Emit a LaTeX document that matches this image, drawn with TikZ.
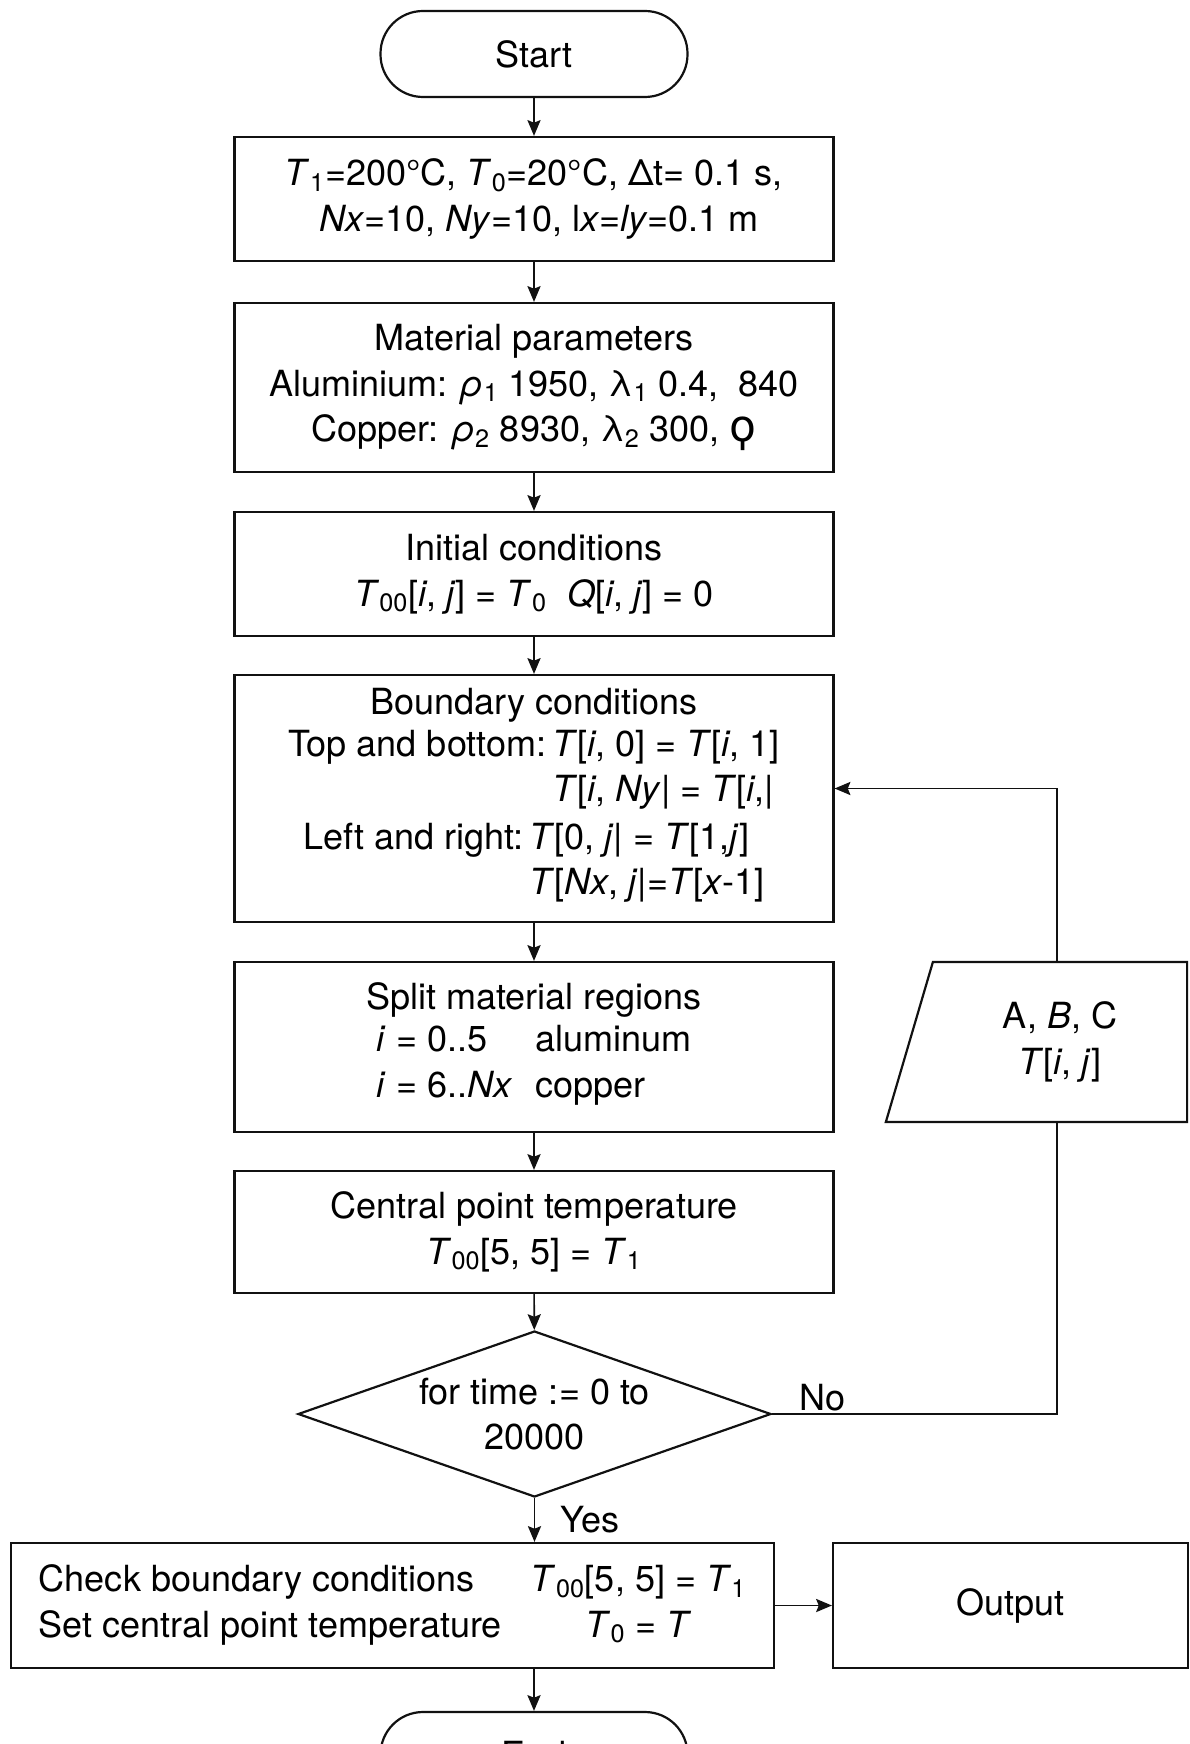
\documentclass[tikz,border=0pt]{standalone}
\usepackage{fontspec}
\setmainfont{TeX Gyre Heros}
\newfontfamily\glyphfont{DejaVu Sans}
\usetikzlibrary{arrows.meta,positioning,shapes.geometric}
\definecolor{Ink}{HTML}{111111}
\newcommand{\iv}[1]{\textit{#1}}
\newcommand{\ssb}[1]{\textsubscript{#1}}
\tikzset{
  every picture/.append style={font=\fontsize{20.5}{26}\selectfont, >=Stealth},
  blk/.style={rectangle, draw=Ink, line width=1.25pt, align=center, inner sep=4pt},
  term/.style={blk, rounded corners=0.85cm, minimum width=6.14cm, minimum height=1.72cm},
  proc/.style={blk, minimum width=11.98cm},
  cond/.style={diamond, draw=Ink, line width=1.25pt, aspect=2.85, inner sep=0pt,
               align=center, minimum width=9.46cm, minimum height=3.32cm},
  data/.style={trapezium, trapezium left angle=75.6, trapezium right angle=90,
               trapezium stretches=true, draw=Ink, line width=1.25pt, align=center,
               minimum width=6.04cm, minimum height=3.2cm, inner sep=2pt},
  flow/.style={-{Stealth[length=9pt,width=7.5pt,inset=1.5pt]}, line width=0.9pt, draw=Ink},
  link/.style={line width=0.9pt, draw=Ink},
  lbl/.style={inner sep=0pt},
}

\begin{document}
\begin{tikzpicture}[x=1cm,y=1cm]
\useasboundingbox (0,0) rectangle (23.78,-34.88);

% ---------------- main column ----------------
\node[term] (start) at (10.68,-1.08) {Start};
\node[proc, minimum height=2.48cm] (par) at (10.68,-3.98)
  {\iv{T}\ssb{1}=200°C, \iv{T}\ssb{0}=20°C, Δt= 0.1 s,\\
   \ \iv{Nx}=10, \iv{Ny}=10, l\iv{x}=\iv{ly}=0.1 m};
\node[proc, minimum height=3.38cm] (mat) at (10.68,-7.75)
  {Material parameters\\
   Aluminium: \iv{ρ}\ssb{1} 1950, λ\ssb{1} 0.4,\ \ 840\\
   Copper: \iv{ρ}\ssb{2} 8930, λ\ssb{2} 300, {\glyphfont\fontsize{25}{26}\selectfont ϙ}};
\node[proc, minimum height=2.48cm] (init) at (10.68,-11.48)
  {Initial conditions\\
   \iv{T}\ssb{00}[\iv{i}, \iv{j}] = \iv{T}\ssb{0}\ \ \iv{Q}[\iv{i}, \iv{j}] = 0};
\node[proc, minimum height=4.94cm] (bnd) at (10.68,-15.97)
  {Boundary conditions\\
   \begin{tabular}{@{}l@{\,}l@{}}
   Top and bottom: & \iv{T}[\iv{i}, 0] = \iv{T}[\iv{i}, 1]\\
                   & \iv{T}[\iv{i}, \iv{Ny}| = \iv{T}[\iv{i},\iv{|}
   \end{tabular}\\
   \begin{tabular}{@{}l@{\,}l@{}}
   Left and right: & \iv{T}[0, \iv{j}| = \iv{T}[1,\iv{j}]\\
                   & \iv{T}[\iv{Nx}, \iv{j}|=\iv{T}[\iv{x}-1]
   \end{tabular}};
\node[proc, minimum height=3.40cm] (split) at (10.68,-20.94)
  {Split material regions\\
   \begin{tabular}{@{}l@{\hspace{0.45cm}}l@{}}
   \iv{i} = 0..5 & aluminum\\
   \iv{i} = 6..\iv{Nx} & copper
   \end{tabular}};
\node[proc, minimum height=2.44cm] (cen) at (10.68,-24.64)
  {Central point temperature\\
   \iv{T}\ssb{00}[5, 5] = \iv{T}\ssb{1}};
\node[cond] (loop) at (10.69,-28.28) {for time := 0 to\\20000};
\node[blk, minimum width=15.26cm, minimum height=2.5cm] (chk) at (7.85,-32.11)
  {\begin{tabular}{@{}l@{\hspace{0.58cm}}c@{}}
   Check boundary conditions & \iv{T}\ssb{00}[5, 5] = \iv{T}\ssb{1}\\
   Set central point temperature & \iv{T}\ssb{0} = \iv{T}
   \end{tabular}};
\node[blk, minimum width=7.1cm, minimum height=2.5cm] (out) at (20.21,-32.11) {Output};
\node[term] (stop) at (10.68,-35.10) {End};

% ---------------- side input ----------------
\node[data] (coef) at (21.2,-20.84) {A, \iv{B}, C\\\iv{T}[\iv{i}, \iv{j}]};

% ---------------- connectors ----------------
\draw[flow] (start) -- (par);
\draw[flow] (par) -- (mat);
\draw[flow] (mat) -- (init);
\draw[flow] (init) -- (bnd);
\draw[flow] (bnd) -- (split);
\draw[flow] (split) -- (cen);
\draw[flow] (cen) -- (loop);
\draw[flow] (loop.south) -- node[lbl, right, xshift=0.5cm] (yes) {Yes} (chk.north -| loop.south);
\draw[flow] (chk.east) -- (out.west);
\draw[flow] (chk.south -| stop.north) -- (stop.north);
\draw[link] (loop.east) -| ([xshift=-0.06cm]coef.south);
\draw[flow] ([xshift=-0.06cm]coef.north) |- ([yshift=0.2cm]bnd.east);
\node[lbl, anchor=south west] (no) at ([xshift=0.55cm,yshift=0.06cm]loop.east) {No};

\end{tikzpicture}
\end{document}
